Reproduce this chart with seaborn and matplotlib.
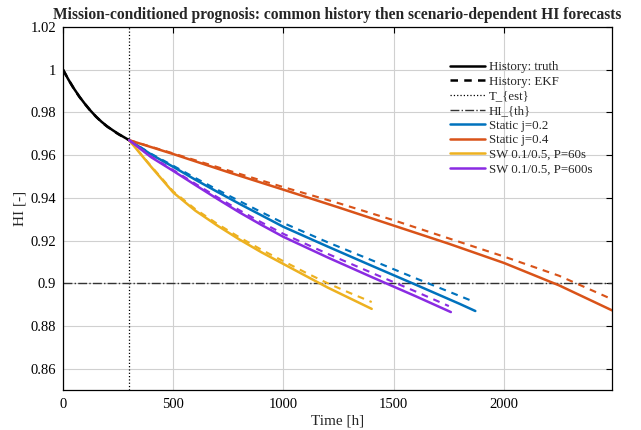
import numpy as np
import pandas as pd
import matplotlib
matplotlib.use("Agg")
import matplotlib.pyplot as plt
import seaborn as sns
from matplotlib.ticker import FormatStrFormatter

# history (common part, 0..T_est)
hist_t = [0, 25, 50, 75, 100, 125, 150, 175, 200, 225, 250, 275, 300]
hist_truth = [1.0, 0.9953, 0.9911, 0.9873, 0.9839, 0.9808, 0.978, 0.9756, 0.9735, 0.9717, 0.970, 0.9685, 0.967]
hist_ekf = [1.0, 0.9953, 0.991, 0.9872, 0.9839, 0.9807, 0.978, 0.9755, 0.9734, 0.9716, 0.9699, 0.9684, 0.967]

t_est = 300
hi_th = 0.9

# forecasts: solid = truth based, dashed = EKF based
s02_t = [300, 400, 500, 600, 700, 800, 900, 1000, 1200, 1400, 1600, 1800, 1870]
s02_true = [0.967, 0.9603, 0.9545, 0.9485, 0.9428, 0.9372, 0.9318, 0.9264, 0.9172, 0.9082, 0.8993, 0.8903, 0.887]
s02_ekf_t = [300, 400, 500, 600, 700, 800, 900, 1000, 1200, 1400, 1600, 1800, 1860]
s02_ekf = [0.967, 0.9606, 0.955, 0.9493, 0.9438, 0.9385, 0.9333, 0.9282, 0.9192, 0.9108, 0.9023, 0.894, 0.8915]

s04_t = [300, 500, 750, 1000, 1250, 1500, 1750, 2000, 2250, 2490]
s04_true = [0.967, 0.9605, 0.952, 0.9438, 0.9355, 0.927, 0.9185, 0.9095, 0.899, 0.8873]
s04_ekf = [0.967, 0.9608, 0.9528, 0.945, 0.9375, 0.9295, 0.921, 0.9125, 0.9035, 0.8925]

sw60_t = [300, 400, 500, 600, 700, 800, 900, 1000, 1100, 1200, 1300, 1400]
sw60_true = [0.967, 0.9545, 0.9425, 0.934, 0.927, 0.9205, 0.9145, 0.909, 0.9035, 0.898, 0.893, 0.888]
sw60_ekf = [0.967, 0.9548, 0.943, 0.9347, 0.9278, 0.9215, 0.9157, 0.9103, 0.905, 0.900, 0.8955, 0.8912]

sw600_t = [300, 400, 500, 600, 700, 800, 900, 1000, 1200, 1400, 1600, 1759]
sw600_true = [0.967, 0.959, 0.9526, 0.946, 0.9395, 0.9332, 0.9273, 0.9217, 0.9121, 0.9029, 0.8939, 0.8865]
sw600_ekf_t = [300, 400, 500, 600, 700, 800, 900, 1000, 1200, 1400, 1600, 1750]
sw600_ekf = [0.967, 0.9593, 0.953, 0.9466, 0.9403, 0.9342, 0.9285, 0.9231, 0.9138, 0.9049, 0.8961, 0.8893]

sns.set_style("white")
plt.rcParams['font.family'] = ['Liberation Serif', 'DejaVu Serif']

fig = plt.figure(figsize=(6.41, 4.30), dpi=100)
ax = fig.add_axes([0.0983, 0.093, 0.8565, 0.8442])

lw = 1.8
sns.lineplot(x=hist_t, y=hist_truth, color='k', lw=lw, label='History: truth', ax=ax)
sns.lineplot(x=hist_t, y=hist_ekf, color='k', lw=lw, linestyle=(0, (3, 2.5)), label='History: EKF', ax=ax)
ax.axvline(t_est, color='k', lw=0.9, linestyle=':', label='T_{est}')
ax.axhline(hi_th, color='#333333', lw=1.0, linestyle='-.', label='HI_{th}')

series = [
    (s02_t, s02_true, s02_ekf_t, s02_ekf, '#0072BD', 'Static j=0.2'),
    (s04_t, s04_true, s04_t, s04_ekf, '#D95319', 'Static j=0.4'),
    (sw60_t, sw60_true, sw60_t, sw60_ekf, '#EDB120', 'SW 0.1/0.5, P=60s'),
    (sw600_t, sw600_true, sw600_ekf_t, sw600_ekf, '#8A2BE2', 'SW 0.1/0.5, P=600s'),
]
for t, y, te, ye, c, name in series:
    sns.lineplot(x=t, y=y, color=c, lw=lw, label=name, ax=ax)
    sns.lineplot(x=te, y=ye, color=c, lw=lw * 0.85, linestyle=(0, (3.2, 2.8)), label='_nolegend_', ax=ax)

ax.set_xlim(0, 2490)
ax.set_ylim(0.85, 1.02)
ax.set_xticks([0, 500, 1000, 1500, 2000])
ax.set_yticks(np.arange(0.86, 1.021, 0.02))
ax.yaxis.set_major_formatter(FormatStrFormatter('%g'))
ax.grid(True, color='#d0d0d0', lw=0.8)
ax.tick_params(direction='in', top=True, right=True, labelsize=10.5, length=4, width=0.8, colors='k', pad=5)
ax.tick_params(axis='x', pad=6)
for sp in ax.spines.values():
    sp.set_color('k')
    sp.set_linewidth(0.9)

ax.set_xlabel('Time [h]', fontsize=11, labelpad=2)
ax.set_ylabel('HI [-]', fontsize=11, labelpad=3)
ax.set_title('Mission-conditioned prognosis: common history then scenario-dependent HI forecasts',
             fontsize=11.2, fontweight='bold', pad=6)

ax.legend(loc='upper left', bbox_to_anchor=(0.696, 0.92), frameon=False, fontsize=9.3,
          handlelength=2.7, handletextpad=0.3, labelspacing=0.2, borderaxespad=0)

fig.savefig('out.png', dpi=100)
